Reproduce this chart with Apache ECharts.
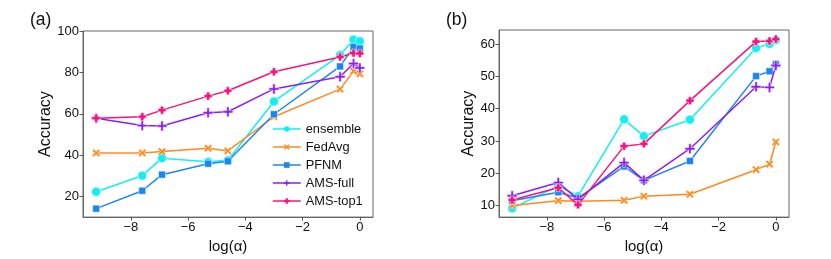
<!DOCTYPE html>
<html>
<head>
<meta charset="utf-8">
<script src="https://cdn.jsdelivr.net/npm/echarts@6/dist/echarts.min.js"></script>
<style>
html,body{margin:0;padding:0;background:#fff;}
#c{width:831px;height:259px;}
</style>
</head>
<body>
<div id="c"></div>
<script>
// log(alpha) positions
var logAlpha = [-9.21, -7.60, -6.91, -5.30, -4.61, -3.00, -0.69, -0.22, 0.0];
var seriesNames = ['ensemble', 'FedAvg', 'PFNM', 'AMS-full', 'AMS-top1'];

// panel (a)
var aEnsemble = [22.2, 30.0, 38.5, 36.7, 37.5, 66.0, 88.5, 96.0, 95.2];
var aFedAvg   = [41.0, 41.0, 41.7, 43.3, 42.0, 58.6, 72.0, 80.7, 79.4];
var aPFNM     = [14.0, 22.7, 30.5, 35.8, 37.0, 59.8, 83.0, 92.5, 91.7];
var aAMSfull  = [57.9, 54.3, 54.1, 60.5, 61.0, 72.1, 78.0, 84.4, 82.3];
var aAMStop1  = [57.9, 58.6, 61.8, 68.6, 71.2, 80.4, 87.6, 89.5, 89.3];

// panel (b)
var bEnsemble = [9.1, 16.1, 12.9, 36.7, 31.5, 36.6, 58.8, 60.1, 61.3];
var bFedAvg   = [10.0, 11.5, 11.3, 11.6, 12.9, 13.5, 21.1, 22.8, 29.7];
var bPFNM     = [11.5, 14.1, 12.3, 22.1, 17.8, 23.8, 50.1, 51.6, 53.8];
var bAMSfull  = [13.0, 17.1, 11.9, 23.3, 17.8, 27.6, 46.8, 46.6, 53.4];
var bAMStop1  = [11.7, 15.5, 10.2, 28.4, 29.1, 42.5, 60.8, 61.0, 61.6];

var xTicks = [-8, -6, -4, -2, 0];
var aYTicks = [20, 40, 60, 80, 100];
var bYTicks = [10, 20, 30, 40, 50, 60];

var colors = ['#12EEF2', '#FF8A1C', '#1A86F2', '#8E1CF6', '#F7127C'];
var symX = 'path://M0,2 L2,0 L5,3 L8,0 L10,2 L7,5 L10,8 L8,10 L5,7 L2,10 L0,8 L3,5 Z';
var symPlus = 'path://M3.8,0 H6.2 V3.8 H10 V6.2 H6.2 V10 H3.8 V6.2 H0 V3.8 H3.8 Z';
var symP = 'path://M3,0 H7 V3 H10 V7 H7 V10 H3 V7 H0 V3 H3 Z';
var symbols = ['circle', symX, 'rect', symPlus, symP];
var symSizes = [9, 8, 7, 10, 8];

var font = '"Liberation Sans", Arial, Helvetica, sans-serif';

function pairs(ys) { return logAlpha.map(function (x, i) { return [x, ys[i]]; }); }
function fmt(v) { return (v < 0 ? '\u2212' + Math.abs(v) : String(v)); }

function mkSeries(data, idx, gi) {
  return {
    name: seriesNames[idx],
    type: 'line',
    xAxisIndex: gi, yAxisIndex: gi,
    data: pairs(data),
    symbol: symbols[idx],
    symbolSize: symSizes[idx],
    showSymbol: true,
    animation: false,
    lineStyle: { color: colors[idx], width: 1.5 },
    itemStyle: { color: colors[idx], borderColor: '#ffffff', borderWidth: 0.5 },
    emphasis: { disabled: true },
    z: 2 + idx
  };
}

var axisCommon = {
  axisLine: { show: true, onZero: false, lineStyle: { color: '#666', width: 1 } },
  axisTick: { show: true, length: 3.5, inside: false, lineStyle: { color: '#333', width: 0.8 } },
  axisLabel: { color: '#111', fontSize: 13, fontFamily: font, margin: 4 }
};

function xAxis(gi) {
  return {
    type: 'value', gridIndex: gi, min: -9.67, max: 0.46,
    axisLine: axisCommon.axisLine,
    axisTick: Object.assign({}, axisCommon.axisTick, { customValues: xTicks }),
    axisLabel: Object.assign({}, axisCommon.axisLabel, { customValues: xTicks, formatter: fmt }),
    splitLine: { show: false },
    name: 'log(\u03B1)', nameLocation: 'middle', nameGap: 16,
    nameTextStyle: { color: '#111', fontSize: 15, fontFamily: font }
  };
}
function yAxis(gi, min, max, ticks) {
  return {
    type: 'value', gridIndex: gi, min: min, max: max,
    axisLine: axisCommon.axisLine,
    axisTick: Object.assign({}, axisCommon.axisTick, { customValues: ticks }),
    axisLabel: Object.assign({}, axisCommon.axisLabel, { customValues: ticks, formatter: fmt }),
    splitLine: { show: false },
    name: 'Accuracy', nameLocation: 'middle', nameGap: 21,
    nameTextStyle: { color: '#111', fontSize: 16, fontFamily: font }
  };
}

var chart = echarts.init(document.getElementById('c'), null, { renderer: 'canvas' });
chart.setOption({
  animation: false,
  backgroundColor: '#ffffff',
  title: [
    { text: '(a)', left: 25, top: 6, textStyle: { fontSize: 17.5, fontWeight: 'normal', color: '#111', fontFamily: font } },
    { text: '(b)', left: 441, top: 6, textStyle: { fontSize: 17.5, fontWeight: 'normal', color: '#111', fontFamily: font } }
  ],
  grid: [
    { left: 83, top: 31, width: 290, height: 189, show: true, borderColor: '#666', borderWidth: 1, backgroundColor: 'transparent' },
    { left: 499, top: 30, width: 290, height: 190, show: true, borderColor: '#666', borderWidth: 1, backgroundColor: 'transparent' }
  ],
  xAxis: [xAxis(0), xAxis(1)],
  yAxis: [yAxis(0, 9.9, 100.2, aYTicks), yAxis(1, 6.4, 64.4, bYTicks)],
  legend: {
    show: true,
    orient: 'vertical',
    left: 267, top: 117,
    itemWidth: 28, itemHeight: 7, itemGap: 4,
    data: seriesNames.map(function (n, i) {
      return {
        name: n,
        itemStyle: { color: colors[i], borderColor: colors[i], borderWidth: 0 },
        lineStyle: { color: colors[i], width: 1.5 }
      };
    }),
    textStyle: { color: '#111', fontSize: 12.8, fontFamily: font, lineHeight: 14 },
    selectedMode: false
  },
  series: [
    mkSeries(aEnsemble, 0, 0), mkSeries(aFedAvg, 1, 0), mkSeries(aPFNM, 2, 0), mkSeries(aAMSfull, 3, 0), mkSeries(aAMStop1, 4, 0),
    mkSeries(bEnsemble, 0, 1), mkSeries(bFedAvg, 1, 1), mkSeries(bPFNM, 2, 1), mkSeries(bAMSfull, 3, 1), mkSeries(bAMStop1, 4, 1)
  ]
});
</script>
</body>
</html>
